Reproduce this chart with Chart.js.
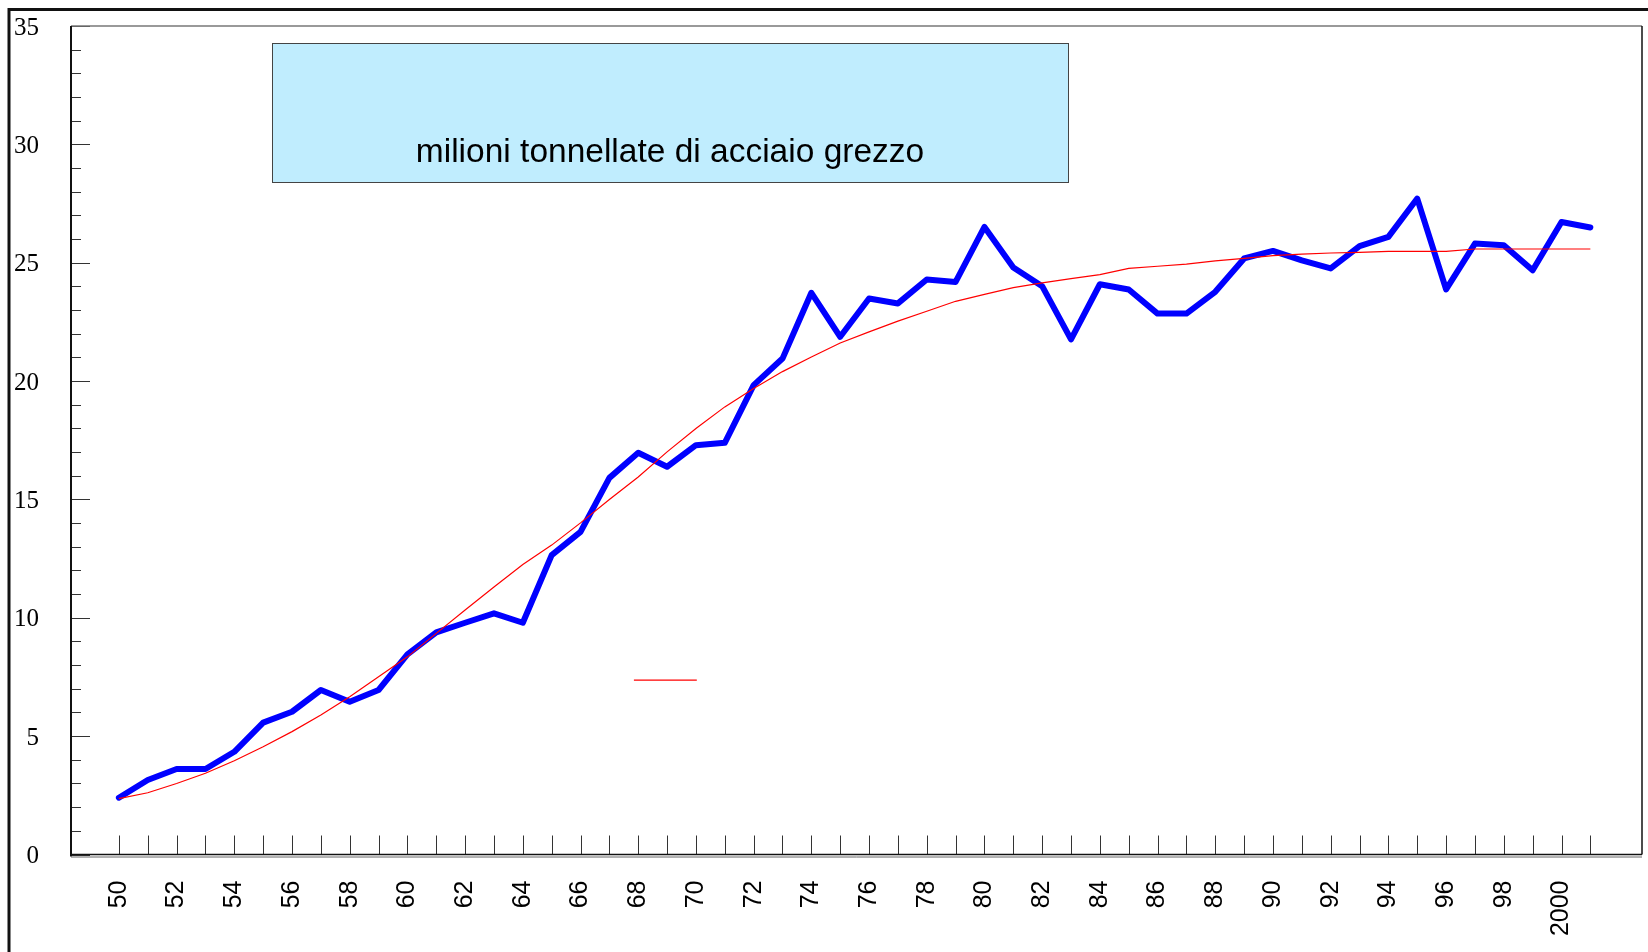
<!DOCTYPE html>
<html>
<head>
<meta charset="utf-8">
<script src="https://cdn.jsdelivr.net/npm/chart.js@4.4.0/dist/chart.umd.min.js"></script>
<style>
  body { margin: 0; background: #fff; }
  canvas { display: block; }
</style>
</head>
<body>
<canvas id="steelChart" width="1648" height="952"></canvas>
<script>
const years = [
    1950, 1951, 1952, 1953, 1954, 1955, 1956, 1957, 1958, 1959,
    1960, 1961, 1962, 1963, 1964, 1965, 1966, 1967, 1968, 1969,
    1970, 1971, 1972, 1973, 1974, 1975, 1976, 1977, 1978, 1979,
    1980, 1981, 1982, 1983, 1984, 1985, 1986, 1987, 1988, 1989,
    1990, 1991, 1992, 1993, 1994, 1995, 1996, 1997, 1998, 1999,
    2000, 2001,
];

// produzione annua (milioni di tonnellate)
const production = [
    2.40, 3.15, 3.61, 3.61, 4.34, 5.57, 6.03, 6.95, 6.45, 6.95,
    8.45, 9.38, 9.79, 10.19, 9.79, 12.65, 13.63, 15.91, 16.97, 16.38,
    17.29, 17.39, 19.83, 20.95, 23.73, 21.87, 23.49, 23.28, 24.29, 24.19,
    26.51, 24.80, 24.01, 21.76, 24.09, 23.87, 22.85, 22.85, 23.77, 25.18,
    25.50, 25.10, 24.76, 25.70, 26.09, 27.71, 23.87, 25.81, 25.74, 24.68,
    26.72, 26.49,
];

// curva di tendenza
const trend = [
    2.36, 2.61, 3.00, 3.43, 3.96, 4.55, 5.19, 5.89, 6.66, 7.51,
    8.35, 9.34, 10.33, 11.30, 12.25, 13.07, 14.01, 15.00, 15.95, 17.01,
    18.00, 18.91, 19.69, 20.40, 21.02, 21.61, 22.08, 22.53, 22.95, 23.37,
    23.66, 23.95, 24.15, 24.33, 24.50, 24.76, 24.85, 24.94, 25.08, 25.18,
    25.30, 25.36, 25.41, 25.44, 25.48, 25.48, 25.48, 25.58, 25.58, 25.58,
    25.58, 25.58,
];

const labelYears = [
    1950, 1952, 1954, 1956, 1958, 1960, 1962, 1964, 1966, 1968,
    1970, 1972, 1974, 1976, 1978, 1980, 1982, 1984, 1986, 1988,
    1990, 1992, 1994, 1996, 1998, 2000,
];
const xTickLabels = [
    "50", "52", "54", "56", "58", "60", "62", "64", "66", "68",
    "70", "72", "74", "76", "78", "80", "82", "84", "86", "88",
    "90", "92", "94", "96", "98", "2000",
];

const yMajorTicks = [0, 5, 10, 15, 20, 25, 30, 35];

const titleText = "milioni tonnellate di acciaio grezzo";

// piccolo segmento rosso (chiave della legenda), in unita' del grafico
const keyLine = { from: 1967.85, to: 1970.03, value: 7.37 };

function noBoxPadding(scale) {
    scale.paddingLeft = 0;
    scale.paddingRight = 0;
    scale.paddingTop = 0;
    scale.paddingBottom = 0;
}

const decor = {
    id: "decor",
    beforeDatasetsDraw(chart) {
        const { ctx, chartArea: a, scales } = chart;
        const xs = scales.x;
        const ys = scales.y;
        ctx.save();

        // tacche asse y (interne)
        ctx.strokeStyle = "#333";
        ctx.lineWidth = 1;
        for (let v = 0; v <= 35; v++) {
            const y = Math.round(ys.getPixelForValue(v)) + 0.5;
            const len = yMajorTicks.includes(v) ? 19 : 10;
            ctx.beginPath();
            ctx.moveTo(a.left, y);
            ctx.lineTo(a.left + len, y);
            ctx.stroke();
        }

        // tacche asse x (verso l'alto)
        years.forEach((yr) => {
            const x = Math.round(xs.getPixelForValue(yr)) + 0.5;
            ctx.beginPath();
            ctx.moveTo(x, a.bottom - 19);
            ctx.lineTo(x, a.bottom);
            ctx.stroke();
        });

        // bordo area del grafico
        ctx.strokeStyle = "#777";
        ctx.lineWidth = 1.5;
        ctx.beginPath();
        ctx.moveTo(a.left, a.top);
        ctx.lineTo(a.right, a.top);
        ctx.stroke();

        ctx.strokeStyle = "#111";
        ctx.lineWidth = 1.5;
        ctx.beginPath();
        ctx.moveTo(a.right, a.top);
        ctx.lineTo(a.right, a.bottom);
        ctx.stroke();

        ctx.lineWidth = 2;
        ctx.beginPath();
        ctx.moveTo(a.left, a.top);
        ctx.lineTo(a.left, a.bottom + 2);
        ctx.stroke();

        ctx.lineWidth = 1.5;
        ctx.beginPath();
        ctx.moveTo(a.left, a.bottom);
        ctx.lineTo(a.right, a.bottom);
        ctx.stroke();
        ctx.strokeStyle = "#666";
        ctx.lineWidth = 1;
        ctx.beginPath();
        ctx.moveTo(a.left, a.bottom + 2.5);
        ctx.lineTo(a.right, a.bottom + 2.5);
        ctx.stroke();

        ctx.restore();
    },
    afterDraw(chart) {
        const { ctx, scales } = chart;
        ctx.save();

        // cornice esterna
        ctx.strokeStyle = "#111";
        ctx.lineWidth = 3;
        ctx.beginPath();
        ctx.moveTo(9, chart.height);
        ctx.lineTo(9, 9.5);
        ctx.lineTo(chart.width, 9.5);
        ctx.stroke();

        // riquadro titolo
        ctx.fillStyle = "#c0edfe";
        ctx.fillRect(272, 43, 796, 139);
        ctx.strokeStyle = "#444";
        ctx.lineWidth = 1;
        ctx.strokeRect(272.5, 43.5, 796, 139);
        ctx.fillStyle = "#000";
        ctx.font = "33.5px 'Liberation Sans', Arial, sans-serif";
        ctx.textAlign = "center";
        ctx.textBaseline = "alphabetic";
        ctx.fillText(titleText, 670, 162);

        // segmento della legenda
        const y = scales.y.getPixelForValue(keyLine.value);
        ctx.strokeStyle = "#ff0000";
        ctx.lineWidth = 1.2;
        ctx.beginPath();
        ctx.moveTo(scales.x.getPixelForValue(keyLine.from), y);
        ctx.lineTo(scales.x.getPixelForValue(keyLine.to), y);
        ctx.stroke();

        ctx.restore();
    },
};

new Chart(document.getElementById("steelChart"), {
    type: "line",
    data: {
        datasets: [
            {
                label: "tendenza",
                data: years.map((yr, i) => ({ x: yr, y: trend[i] })),
                borderColor: "#ff0000",
                borderWidth: 1.2,
                pointRadius: 0,
                tension: 0,
            },
            {
                label: "produzione",
                data: years.map((yr, i) => ({ x: yr, y: production[i] })),
                borderColor: "#0000ff",
                borderWidth: 6,
                borderJoinStyle: "round",
                borderCapStyle: "round",
                pointRadius: 0,
                tension: 0,
            },
        ],
    },
    options: {
        responsive: false,
        animation: false,
        devicePixelRatio: 1,
        layout: { padding: { top: 26, right: 6, left: 0, bottom: 0 } },
        plugins: {
            legend: { display: false },
            tooltip: { enabled: false },
        },
        scales: {
            x: {
                type: "linear",
                min: 1948.34,
                max: 2002.79,
                afterFit(scale) {
                    scale.height = 97.5;
                    noBoxPadding(scale);
                },
                grid: { display: false, drawTicks: false },
                border: { display: false },
                ticks: {
                    stepSize: 1,
                    includeBounds: false,
                    autoSkip: false,
                    minRotation: 90,
                    maxRotation: 90,
                    padding: 26,
                    color: "#000",
                    font: { family: "'Liberation Sans', Arial, sans-serif", size: 25 },
                    callback(value) {
                        const i = labelYears.indexOf(value);
                        return i >= 0 ? xTickLabels[i] : "";
                    },
                },
            },
            y: {
                min: 0,
                max: 35,
                afterFit(scale) {
                    scale.width = 71;
                    noBoxPadding(scale);
                },
                grid: { display: false, drawTicks: false },
                border: { display: false },
                ticks: {
                    stepSize: 5,
                    padding: 32,
                    labelOffset: 2,
                    color: "#000",
                    font: { family: "'Liberation Serif', 'Times New Roman', serif", size: 25 },
                },
            },
        },
    },
    plugins: [decor],
});
</script>
</body>
</html>
